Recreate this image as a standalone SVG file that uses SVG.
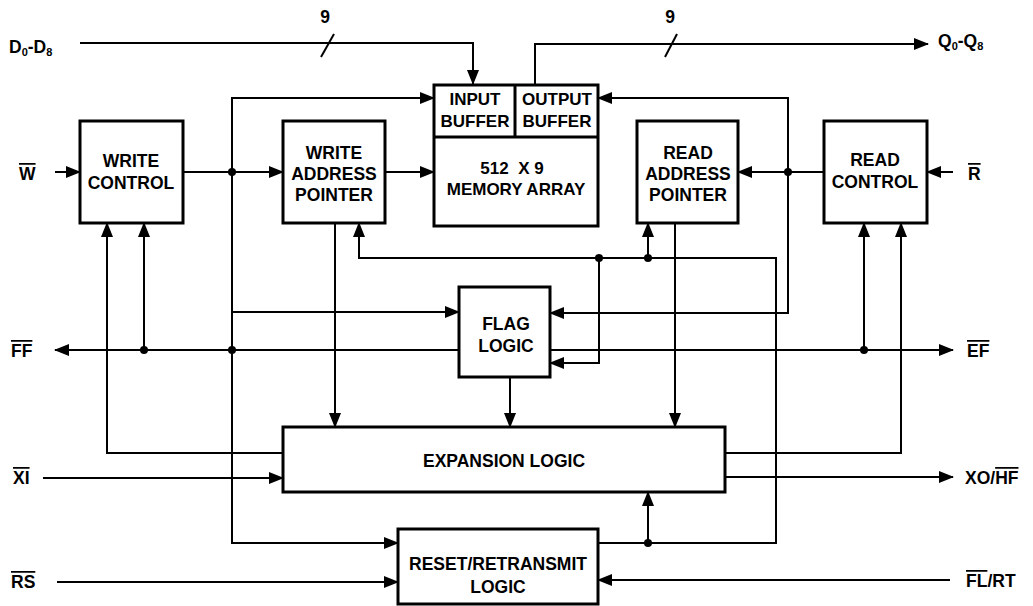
<svg xmlns="http://www.w3.org/2000/svg" width="1033" height="606" viewBox="0 0 1033 606">
<style>
  .box { fill: #fff; stroke: #000; stroke-width: 3; }
  .ln { fill: none; stroke: #000; stroke-width: 2; }
  .arr { fill: none; stroke: #000; stroke-width: 2; marker-end: url(#ah); }
  .dot { fill: #000; }
  text { font-family: "Liberation Sans", Arial, sans-serif; font-weight: bold; font-size: 17.5px; fill: #000; }
  .c { text-anchor: middle; }
  .ol { text-decoration: overline; }
  .sub { font-size: 11px; }
  .sm { font-size: 17px; }
</style>
<defs>
  <marker id="ah" markerUnits="userSpaceOnUse" markerWidth="15" markerHeight="12" refX="14" refY="6" orient="auto">
    <path d="M0,0 L15,6 L0,12 z" fill="#000"/>
  </marker>
</defs>
<rect width="1033" height="606" fill="#fff"/>

<g id="connectors">
  <!-- data buses -->
  <path class="arr" d="M80,43 H473 V84"/>
  <line class="ln" x1="321" y1="57" x2="334" y2="34"/>
  <path class="arr" d="M535,85 V44 H928"/>
  <line class="ln" x1="665" y1="57" x2="677" y2="34"/>
  <!-- W -->
  <path class="arr" d="M55,172 H80"/>
  <path class="arr" d="M183,172 H283"/>
  <!-- write control distribution -->
  <path class="arr" d="M232,312 V98 H434"/>
  <path class="arr" d="M232,312 V543 H398"/>
  <path class="arr" d="M232,312 H459"/>
  <!-- FF -->
  <path class="arr" d="M459,350 H55"/>
  <path class="arr" d="M144,350 V223"/>
  <path class="arr" d="M283,453 H107 V223"/>
  <!-- WAP -->
  <path class="arr" d="M385,172 H434"/>
  <path class="arr" d="M335,223 V427"/>
  <!-- reset distribution -->
  <path class="arr" d="M598,543 H776 V258 H359 V223"/>
  <path class="arr" d="M648,543 V492"/>
  <path class="arr" d="M648,258 V223"/>
  <path class="arr" d="M599,258 V363 H550"/>
  <!-- RAP -->
  <path class="arr" d="M675,223 V427"/>
  <path class="arr" d="M824,172 H738"/>
  <path class="arr" d="M788,172 V98 H598"/>
  <path class="arr" d="M788,172 V313 H550"/>
  <!-- R -->
  <path class="arr" d="M953,172 H927"/>
  <!-- EF -->
  <path class="arr" d="M550,350 H953"/>
  <path class="arr" d="M864,350 V223"/>
  <path class="arr" d="M725,453 H901 V223"/>
  <!-- expansion -->
  <path class="arr" d="M43,478 H283"/>
  <path class="arr" d="M725,477 H953"/>
  <path class="arr" d="M510,377 V427"/>
  <!-- reset inputs -->
  <path class="arr" d="M57,582 H398"/>
  <path class="arr" d="M950,580 H598"/>
  <!-- junction dots -->
  <circle class="dot" cx="232" cy="172" r="4"/>
  <circle class="dot" cx="232" cy="350" r="4"/>
  <circle class="dot" cx="144" cy="350" r="4"/>
  <circle class="dot" cx="599" cy="258" r="4"/>
  <circle class="dot" cx="648" cy="258" r="4"/>
  <circle class="dot" cx="648" cy="543" r="4"/>
  <circle class="dot" cx="788" cy="172" r="4"/>
  <circle class="dot" cx="864" cy="350" r="4"/>
</g>

<g id="write-control">
  <rect class="box" x="80" y="121" width="103" height="102"/>
  <text class="c" x="131" y="167">WRITE</text>
  <text class="c" x="131" y="189">CONTROL</text>
</g>
<g id="write-address-pointer">
  <rect class="box" x="283" y="121" width="102" height="102"/>
  <text class="c" x="334" y="159">WRITE</text>
  <text class="c" x="334" y="180">ADDRESS</text>
  <text class="c" x="334" y="201">POINTER</text>
</g>
<g id="memory-array">
  <rect class="box" x="434" y="85" width="164" height="141"/>
  <line class="box" x1="434" y1="137" x2="598" y2="137"/>
  <line class="box" x1="515" y1="85" x2="515" y2="137"/>
  <text class="c sm" x="475" y="105">INPUT</text>
  <text class="c sm" x="475" y="127">BUFFER</text>
  <text class="c sm" x="557" y="105">OUTPUT</text>
  <text class="c sm" x="557" y="127">BUFFER</text>
  <text class="c sm" x="512" y="174" xml:space="preserve">512  X 9</text>
  <text class="c sm" x="516" y="195">MEMORY ARRAY</text>
</g>
<g id="read-address-pointer">
  <rect class="box" x="637" y="121" width="101" height="102"/>
  <text class="c" x="688" y="159">READ</text>
  <text class="c" x="688" y="180">ADDRESS</text>
  <text class="c" x="688" y="201">POINTER</text>
</g>
<g id="read-control">
  <rect class="box" x="824" y="121" width="103" height="102"/>
  <text class="c" x="875" y="166">READ</text>
  <text class="c" x="875" y="188">CONTROL</text>
</g>
<g id="flag-logic">
  <rect class="box" x="459" y="287" width="91" height="90"/>
  <text class="c" x="506" y="330">FLAG</text>
  <text class="c" x="506" y="352">LOGIC</text>
</g>
<g id="expansion-logic">
  <rect class="box" x="283" y="427" width="442" height="65"/>
  <text class="c" x="504" y="467">EXPANSION LOGIC</text>
</g>
<g id="reset-retransmit-logic">
  <rect class="box" x="398" y="529" width="200" height="75"/>
  <text class="c" x="498" y="570">RESET/RETRANSMIT</text>
  <text class="c" x="498" y="593">LOGIC</text>
</g>

<g id="labels">
  <text x="9" y="53">D<tspan class="sub" dy="3">0</tspan><tspan dy="-3">-D</tspan><tspan class="sub" dy="3">8</tspan></text>
  <text x="938" y="47">Q<tspan class="sub" dy="3">0</tspan><tspan dy="-3">-Q</tspan><tspan class="sub" dy="3">8</tspan></text>
  <text class="c" x="325" y="23">9</text>
  <text class="c" x="670" y="23">9</text>
  <text x="19" y="180"><tspan class="ol">W</tspan></text>
  <text x="968" y="180"><tspan class="ol">R</tspan></text>
  <text x="11" y="357"><tspan class="ol">FF</tspan></text>
  <text x="967" y="357"><tspan class="ol">EF</tspan></text>
  <text x="13" y="484"><tspan class="ol">XI</tspan></text>
  <text x="965" y="484">XO/<tspan class="ol">HF</tspan></text>
  <text x="11" y="588"><tspan class="ol">RS</tspan></text>
  <text x="966" y="587"><tspan class="ol">FL</tspan>/RT</text>
</g>
</svg>
